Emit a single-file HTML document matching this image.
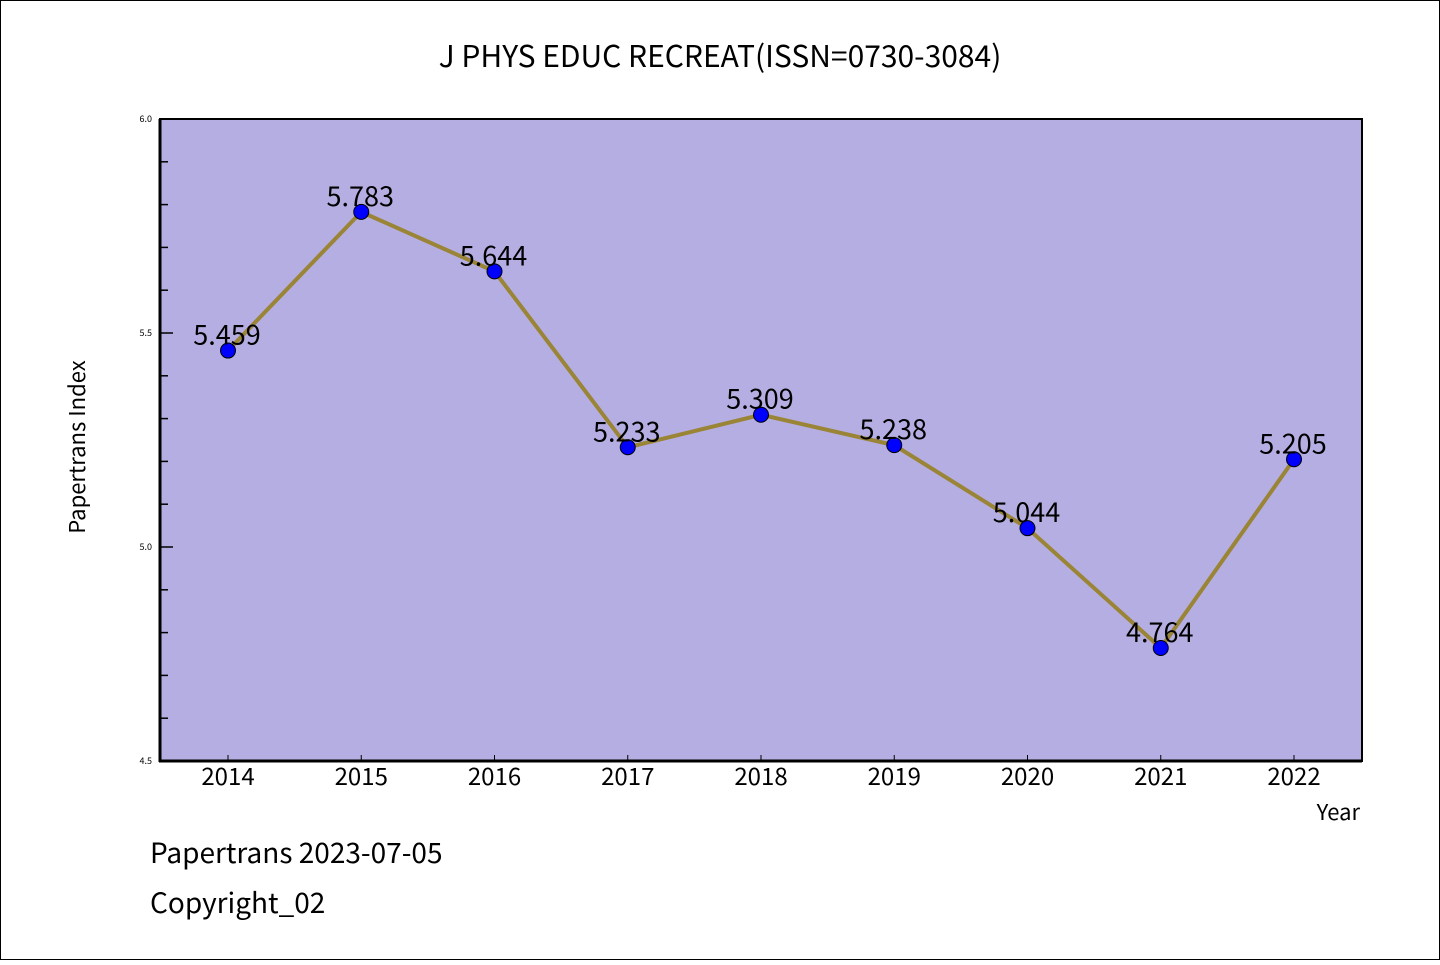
<!DOCTYPE html>
<html><head><meta charset="utf-8"><style>
body{margin:0;background:#fff}
svg text{font-family:"WenQuanYi Zen Hei","Noto Sans CJK SC","Liberation Sans",sans-serif}
</style></head><body>
<svg id="c" width="1440" height="960">
<rect x="0.5" y="0.5" width="1439" height="959" fill="#fff" stroke="#000"/>
<text x="720" y="67" font-size="30" text-anchor="middle">J PHYS EDUC RECREAT(ISSN=0730-3084)</text>
<rect x="160" y="119" width="1202" height="642" fill="#b5aee2" stroke="#000" stroke-width="2"/>
<line x1="160" y1="119" x2="160" y2="762" stroke="#000" stroke-width="3"/>
<line x1="159" y1="761" x2="1362" y2="761" stroke="#000" stroke-width="3"/>
<text x="85" y="447" font-size="22" text-anchor="middle" transform="rotate(-90 85 447)">Papertrans Index</text>
<text x="1360" y="820" font-size="22" text-anchor="end">Year</text>
<text x="150" y="863" font-size="28">Papertrans 2023-07-05</text>
<text x="150" y="913" font-size="28">Copyright_02</text>
<g id="ticks"></g><g id="marks"></g>
</svg>
<script>
const years=["2014","2015","2016","2017","2018","2019","2020","2021","2022"];
const values=[5.459,5.783,5.644,5.233,5.309,5.238,5.044,4.764,5.205];
const yTicks=["4.5","5.0","5.5","6.0"];
const NS="http://www.w3.org/2000/svg";
function y(v){return 761-(v-4.5)/1.5*642;}
function x(i){return 228+i*(1294-228)/8;}
function mk(t,a,p){const e=document.createElementNS(NS,t);for(const k in a)e.setAttribute(k,a[k]);p.appendChild(e);return e;}
const T=document.getElementById('ticks'),M=document.getElementById('marks');
for(let k=0;k<=15;k++){const v=4.5+k*0.1,len=(k%5==0)?13:8;
 const l=mk('line',{x1:160,x2:160+len,y1:y(v),y2:y(v),stroke:'#000','stroke-width':1.5},T);
 
 }
yTicks.forEach(s=>{const t=mk('text',{x:152,y:y(+s)+3,'font-size':9,'text-anchor':'end'},T);t.textContent=s;
 
 });
years.forEach((s,i)=>{const l=mk('line',{x1:x(i),x2:x(i),y1:761,y2:755,stroke:'#000','stroke-width':1},T);
 
 
 const t=mk('text',{x:x(i),y:785,'font-size':24,'text-anchor':'middle'},T);t.textContent=s;
 
 });
const pl=mk('polyline',{points:values.map((v,i)=>x(i)+','+y(v)).join(' '),fill:'none',stroke:'#9a8436','stroke-width':4},M);


values.forEach((v,i)=>{const c=mk('circle',{cx:x(i),cy:y(v),r:7.5,fill:'#0000ff',stroke:'#000','stroke-width':1},M);
 
 });
values.forEach((v,i)=>{const t=mk('text',{x:x(i)-1,y:y(v)-6,'font-size':27,'text-anchor':'middle'},M);t.textContent=v.toFixed(3);
 
 });
</script>
</body></html>
